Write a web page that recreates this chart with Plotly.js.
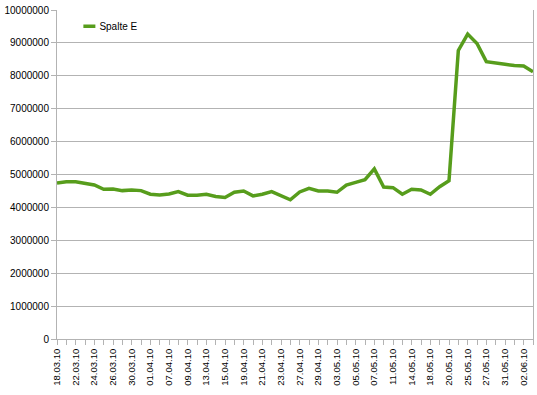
<!DOCTYPE html>
<html>
<head>
<meta charset="utf-8">
<script src="https://cdn.plot.ly/plotly-3.0.1.min.js"></script>
<style>
html,body{margin:0;padding:0;background:#fff;}
#chart{width:537px;height:395px;}
</style>
</head>
<body>
<div id="chart"></div>
<script>
const dates = ["18.03.10","19.03.10","22.03.10","23.03.10","24.03.10","25.03.10","26.03.10","29.03.10","30.03.10","31.03.10",
"01.04.10","06.04.10","07.04.10","08.04.10","09.04.10","12.04.10","13.04.10","14.04.10","15.04.10","16.04.10",
"19.04.10","20.04.10","21.04.10","22.04.10","23.04.10","26.04.10","27.04.10","28.04.10","29.04.10","30.04.10",
"03.05.10","04.05.10","05.05.10","06.05.10","07.05.10","10.05.10","11.05.10","12.05.10","14.05.10","17.05.10",
"18.05.10","19.05.10","20.05.10","21.05.10","25.05.10","26.05.10","27.05.10","28.05.10","31.05.10","01.06.10",
"02.06.10","03.06.10"];
const spalteE = [4740000,4780000,4780000,4740000,4680000,4550000,4560000,4510000,4530000,4510000,
4400000,4380000,4410000,4480000,4370000,4370000,4400000,4330000,4300000,4460000,
4500000,4350000,4400000,4480000,4350000,4230000,4470000,4580000,4500000,4500000,
4460000,4680000,4760000,4840000,5170000,4620000,4600000,4400000,4550000,4530000,
4400000,4630000,4810000,8770000,9270000,8980000,8430000,8400000,8350000,8310000,
8300000,8120000];
const seriesName = "Spalte E";

const idx = dates.map((d,i)=>i);
const tickText = dates.map((d,i)=> i%2===0 ? d : "");

const trace = {
  x: idx, y: spalteE, type: 'scatter', mode: 'lines', name: seriesName,
  line: {color: '#579d1c', width: 3.5, shape: 'linear'}
};
const grey = '#b3b3b3';
const layout = {
  width: 537, height: 395,
  margin: {l: 57, r: 4, t: 10, b: 56, pad: 0},
  paper_bgcolor: '#ffffff', plot_bgcolor: '#ffffff',
  font: {family: 'Liberation Sans, Arial, sans-serif', size: 10, color: '#000'},
  showlegend: true,
  legend: {x: 0.005, y: 0.995, xanchor: 'left', yanchor: 'top', bgcolor: 'rgba(0,0,0,0)',
           font: {size: 10, color: '#000'}, itemwidth: 30},
  xaxis: {
    type: 'linear', range: [0, 51], tickmode: 'array', tickvals: idx, ticktext: tickText,
    tickangle: -90, ticks: 'outside', ticklen: 5, tickcolor: grey, tickwidth: 1,
    showgrid: false, zeroline: false, showline: true, linecolor: grey, linewidth: 1,
    tickfont: {size: 9.5, color: '#000'}, fixedrange: true
  },
  yaxis: {
    range: [0, 10000000], tickmode: 'linear', tick0: 0, dtick: 1000000, tickformat: 'd',
    ticks: 'outside', ticklen: 5, tickcolor: grey, showgrid: true, gridcolor: grey, gridwidth: 1,
    zeroline: false, showline: true, linecolor: grey, linewidth: 1, mirror: true,
    tickfont: {size: 10, color: '#000'}, fixedrange: true
  }
};
Plotly.newPlot('chart', [trace], layout, {displayModeBar: false, staticPlot: true}).then(function(gd){
  // shorter legend line symbol, as in the reference
  gd.querySelectorAll('.legendlines path').forEach(function(p){ p.setAttribute('d', 'M24,0h12'); });
});
</script>
</body>
</html>
